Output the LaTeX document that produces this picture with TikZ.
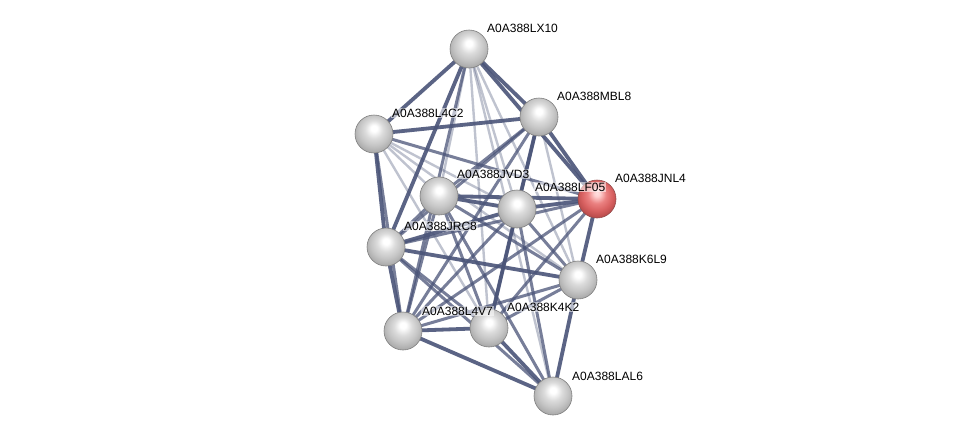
\documentclass[tikz,border=0pt]{standalone}
\usepackage{fontspec}
\setmainfont{Liberation Sans}
\usetikzlibrary{backgrounds}
\definecolor{edgec}{RGB}{74,84,120}
\pgfdeclareradialshading{sball}{\pgfpoint{0bp}{8bp}}{color(0bp)=(white); color(4bp)=(white); color(12bp)=(white!86!black); color(20bp)=(white!77!black); color(28bp)=(white!66!black); color(31bp)=(white!74!black); color(33bp)=(white!82!black); color(50bp)=(white!82!black)}
\pgfdeclareradialshading{rball}{\pgfpoint{0bp}{8bp}}{color(0bp)=(red!12!white); color(4bp)=(red!18!white); color(12bp)=(red!45!white!92!black); color(20bp)=(red!55!white!85!black); color(28bp)=(red!60!white!72!black); color(31bp)=(red!55!white!80!black); color(33bp)=(red!45!white!88!black); color(50bp)=(red!45!white!88!black)}
\tikzset{
  prot/.style={circle, minimum size=38pt, inner sep=0pt, shading=sball, draw=black!50, line width=0.6pt},
  protred/.style={prot, shading=rball, draw=red!40!black!70},
  lab/.style={anchor=base west, inner sep=1pt, fill=white, fill opacity=0.55, text opacity=1, font=\fontsize{12}{14}\selectfont},
  et/.style={draw=edgec, line width=3.8pt, opacity=0.9},
  em/.style={draw=edgec, line width=3pt, opacity=0.75},
  el/.style={draw=edgec, line width=2.4pt, opacity=0.35},
}
\begin{document}
\begin{tikzpicture}[x=1pt,y=-1pt]
\path[use as bounding box] (0,0) rectangle (975,442);
\node[prot] (LX10) at (469,49) {};
\node[prot] (MBL8) at (539,117) {};
\node[prot] (L4C2) at (374,134) {};
\node[prot] (JVD3) at (439,196) {};
\node[prot] (LF05) at (517,209) {};
\node[protred] (JNL4) at (597,199) {};
\node[prot] (JRC8) at (386,247) {};
\node[prot] (K6L9) at (578,280) {};
\node[prot] (L4V7) at (403,331) {};
\node[prot] (K4K2) at (489,328) {};
\node[prot] (LAL6) at (553,396) {};
\begin{pgfonlayer}{background}
\fill[white] (0,0) rectangle (975,442);
\draw[et] (LX10.center) -- (L4C2.center);
\draw[et] (LX10.center) -- (MBL8.center);
\draw[et] (LX10.center) -- (JNL4.center);
\draw[et] (LX10.center) -- (JRC8.center);
\draw[em] (LX10.center) -- (L4V7.center);
\draw[el] (LX10.center) -- (JVD3.center);
\draw[el] (LX10.center) -- (LF05.center);
\draw[el] (LX10.center) -- (K4K2.center);
\draw[el] (LX10.center) -- (K6L9.center);
\draw[el] (LX10.center) -- (LAL6.center);
\draw[et] (L4C2.center) -- (MBL8.center);
\draw[et] (L4C2.center) -- (JRC8.center);
\draw[em] (L4C2.center) -- (L4V7.center);
\draw[em] (L4C2.center) -- (JNL4.center);
\draw[el] (L4C2.center) -- (JVD3.center);
\draw[el] (L4C2.center) -- (LF05.center);
\draw[el] (L4C2.center) -- (K4K2.center);
\draw[el] (L4C2.center) -- (K6L9.center);
\draw[et] (MBL8.center) -- (JNL4.center);
\draw[et] (MBL8.center) -- (LF05.center);
\draw[em] (MBL8.center) -- (JVD3.center);
\draw[em] (MBL8.center) -- (JRC8.center);
\draw[em] (MBL8.center) -- (K4K2.center);
\draw[em] (MBL8.center) -- (L4V7.center);
\draw[el] (MBL8.center) -- (K6L9.center);
\draw[et] (JVD3.center) -- (LF05.center);
\draw[et] (JVD3.center) -- (JNL4.center);
\draw[em] (JVD3.center) -- (JRC8.center);
\draw[em] (JVD3.center) -- (L4V7.center);
\draw[em] (JVD3.center) -- (K4K2.center);
\draw[em] (JVD3.center) -- (K6L9.center);
\draw[em] (JVD3.center) -- (LAL6.center);
\draw[et] (LF05.center) -- (JNL4.center);
\draw[et] (LF05.center) -- (JRC8.center);
\draw[em] (LF05.center) -- (L4V7.center);
\draw[et] (LF05.center) -- (K4K2.center);
\draw[em] (LF05.center) -- (K6L9.center);
\draw[em] (LF05.center) -- (LAL6.center);
\draw[em] (JNL4.center) -- (JRC8.center);
\draw[et] (JNL4.center) -- (K6L9.center);
\draw[em] (JNL4.center) -- (K4K2.center);
\draw[em] (JNL4.center) -- (L4V7.center);
\draw[et] (JRC8.center) -- (K6L9.center);
\draw[et] (JRC8.center) -- (L4V7.center);
\draw[em] (JRC8.center) -- (K4K2.center);
\draw[em] (JRC8.center) -- (LAL6.center);
\draw[em] (K6L9.center) -- (L4V7.center);
\draw[em] (K6L9.center) -- (K4K2.center);
\draw[et] (K6L9.center) -- (LAL6.center);
\draw[et] (L4V7.center) -- (K4K2.center);
\draw[et] (L4V7.center) -- (LAL6.center);
\draw[et] (K4K2.center) -- (LAL6.center);
\end{pgfonlayer}
\node[lab] (tLX10) at (486,32) {A0A388LX10};
\node[lab] (tMBL8) at (556,100) {A0A388MBL8};
\node[lab] (tL4C2) at (391,117) {A0A388L4C2};
\node[lab] (tJVD3) at (456,178) {A0A388JVD3};
\node[lab] (tLF05) at (534,191) {A0A388LF05};
\node[lab] (tJNL4) at (614,182) {A0A388JNL4};
\node[lab] (tJRC8) at (403,230) {A0A388JRC8};
\node[lab] (tK6L9) at (595,263) {A0A388K6L9};
\node[lab] (tL4V7) at (421,315) {A0A388L4V7};
\node[lab] (tK4K2) at (506,311) {A0A388K4K2};
\node[lab] (tLAL6) at (571,380) {A0A388LAL6};
\end{tikzpicture}
\end{document}
